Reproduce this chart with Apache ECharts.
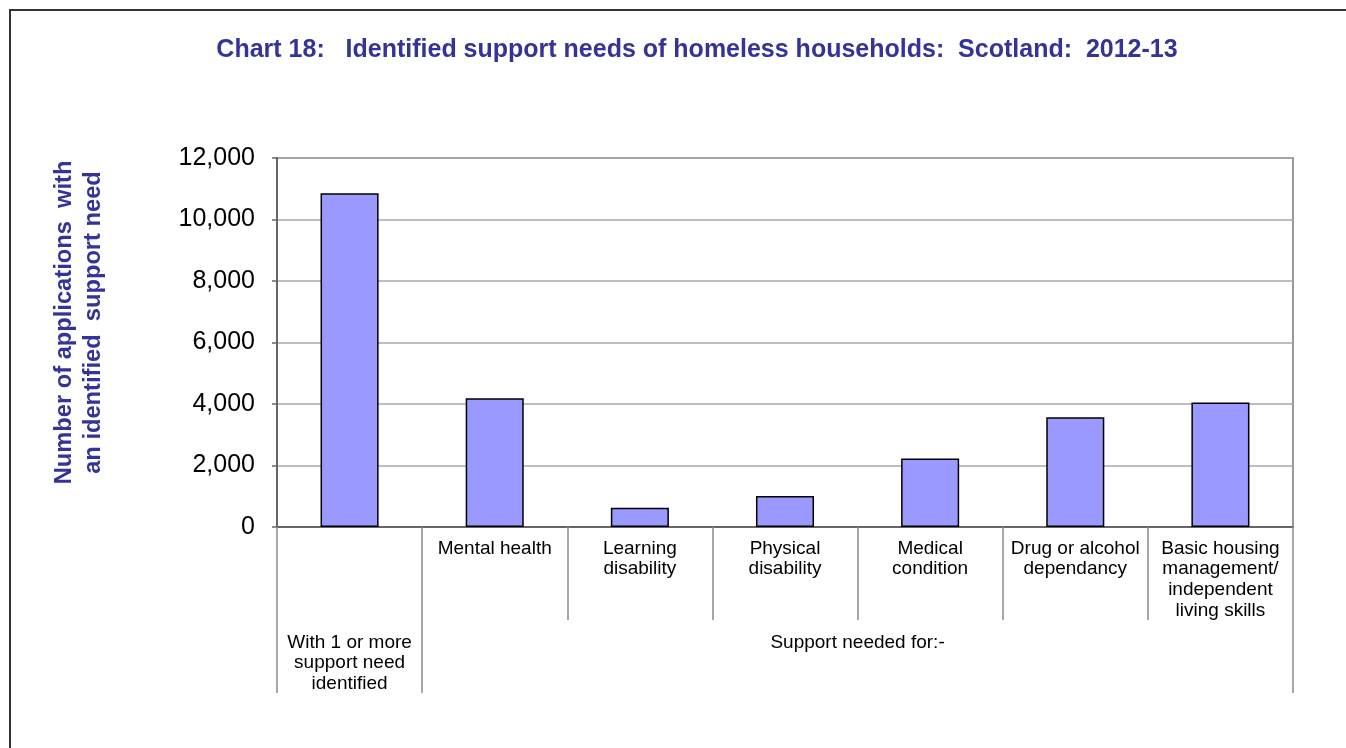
<!DOCTYPE html>
<html>
<head>
<meta charset="utf-8">
<title>Chart 18</title>
<script src="https://cdn.jsdelivr.net/npm/echarts@6/dist/echarts.min.js"></script>
<style>
  html, body { margin: 0; padding: 0; background: #fff; }
  #wrap { position: relative; width: 1346px; height: 748px; overflow: hidden; }
  #frame { position: absolute; left: 9px; top: 9px; width: 1400px; height: 800px;
           border-left: 2px solid #333; border-top: 2px solid #333; box-sizing: border-box; }
  #chart { position: absolute; left: 0; top: 0; width: 1346px; height: 748px; }
</style>
</head>
<body>
<div id="wrap">
  <div id="frame"></div>
  <div id="chart"></div>
</div>
<script>
// Homeless applications with an identified support need, Scotland 2012-13
const categories = [
  '',
  'Mental health',
  'Learning\ndisability',
  'Physical\ndisability',
  'Medical\ncondition',
  'Drug or alcohol\ndependancy',
  'Basic housing\nmanagement/\nindependent\nliving skills'
];
const applications = [10850, 4190, 630, 1010, 2230, 3570, 4050];

// Outer grouping row under the category labels
const groupLabels = { 0.5: 'With 1 or more\nsupport need\nidentified', 4: 'Support needed for:-' };
const groupBoundaries = [0, 1]; // category indices that start a group (end is closed automatically)

const yTicks = { min: 0, max: 12000, interval: 2000 };

const FONT = '"Liberation Sans", Arial, sans-serif';
const TITLE_BLUE = '#333399';

const chart = echarts.init(document.getElementById('chart'), null, { renderer: 'canvas' });

chart.setOption({
  animation: false,
  backgroundColor: 'transparent',
  title: {
    text: 'Chart 18:   Identified support needs of homeless households:  Scotland:  2012-13',
    left: 692,
    top: 33,
    textAlign: 'center',
    textStyle: { fontFamily: FONT, fontSize: 25, fontWeight: 'bold', color: TITLE_BLUE }
  },
  grid: {
    left: 277, right: 53, top: 158, bottom: 221,
    show: true, borderColor: '#9a9a9a', borderWidth: 2, backgroundColor: 'transparent'
  },
  xAxis: [
    {
      type: 'category',
      data: categories,
      position: 'bottom',
      axisLine: { show: true, lineStyle: { color: '#666', width: 2 } },
      axisTick: { show: true, interval: 0, length: 93, lineStyle: { color: '#8a8a8a', width: 1.5 } },
      axisLabel: {
        interval: 0, margin: 11, color: '#000',
        fontFamily: FONT, fontSize: 19, lineHeight: 20.7, align: 'center'
      },
      splitLine: { show: false }
    },
    {
      type: 'category',
      data: categories.map(function (c, i) { return String(i); }),
      position: 'bottom',
      axisLine: { show: false },
      axisTick: {
        show: true, length: 166, lineStyle: { color: '#8a8a8a', width: 1.5 },
        interval: function (index) { return groupBoundaries.indexOf(index) >= 0; }
      },
      axisLabel: { show: false },
      splitLine: { show: false }
    },
    {
      type: 'value',
      min: 0, max: categories.length, interval: 0.5,
      position: 'bottom',
      axisLine: { show: false },
      axisTick: { show: false },
      splitLine: { show: false },
      axisLabel: {
        margin: 105, color: '#000', showMinLabel: true, showMaxLabel: true,
        fontFamily: FONT, fontSize: 19, lineHeight: 20.7, align: 'center',
        formatter: function (v) { return groupLabels[v] || ''; }
      }
    }
  ],
  yAxis: {
    type: 'value',
    min: yTicks.min, max: yTicks.max, interval: yTicks.interval,
    name: 'Number of applications  with\nan identified  support need',
    nameLocation: 'middle',
    nameGap: 169,
    nameTextStyle: {
      fontFamily: FONT, fontSize: 23.7, fontWeight: 'bold', color: TITLE_BLUE,
      lineHeight: 29, padding: [0, 0, 0, 40]
    },
    axisLine: { show: true, lineStyle: { color: '#666', width: 2 } },
    axisTick: { show: true, length: 5, lineStyle: { color: '#666', width: 1.5 } },
    axisLabel: {
      margin: 22, color: '#000', fontFamily: FONT, fontSize: 25,
      formatter: function (v) { return v.toLocaleString('en-US'); }
    },
    splitLine: { show: true, lineStyle: { color: '#a8a8a8', width: 1.5 } }
  },
  series: [{
    type: 'bar',
    xAxisIndex: 0,
    yAxisIndex: 0,
    data: applications,
    barWidth: '40%',
    itemStyle: { color: '#9999ff', borderColor: '#000', borderWidth: 1.5 }
  }]
});
</script>
</body>
</html>
